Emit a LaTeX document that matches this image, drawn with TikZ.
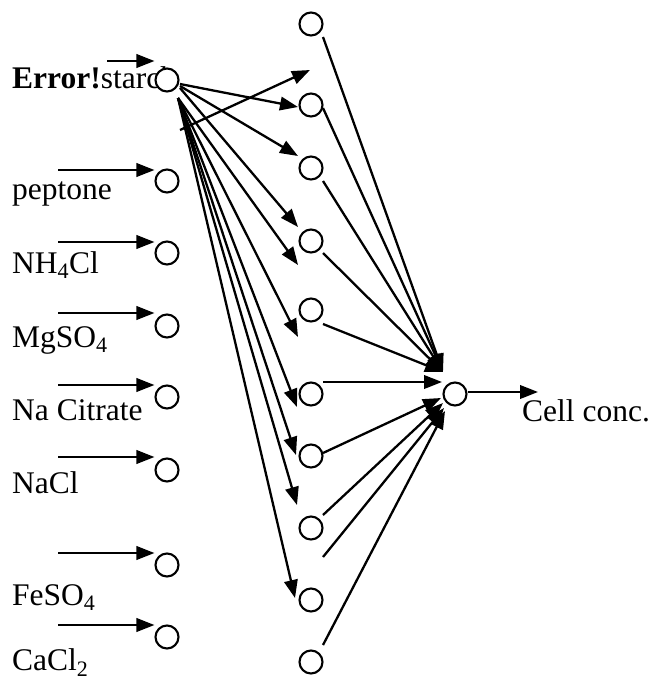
\documentclass[tikz,border=0pt]{standalone}
\usepackage{fontspec}
\setmainfont{Liberation Serif}
\usetikzlibrary{arrows.meta,calc}
\begin{document}
\begin{tikzpicture}[x=1pt,y=-1pt,
  unit/.style={circle,draw,fill=white,line width=2.1pt,minimum size=23pt,inner sep=0pt},
  link/.style={line width=2.3pt,-{Triangle[length=18pt,width=13.5pt]}},
  lbl/.style={anchor=base west,inner sep=0pt,font=\fontsize{31.5}{37}\selectfont}]
\useasboundingbox (0,0) rectangle (653,686);

% input labels
\node[lbl] (l1) at (12,88)  {\textbf{Error!}starch};
\node[lbl] (l2) at (12,199) {peptone};
\node[lbl] (l3) at (12,273) {NH\textsubscript{4}Cl};
\node[lbl] (l4) at (12,347) {MgSO\textsubscript{4}};
\node[lbl] (l5) at (12,420) {Na Citrate};
\node[lbl] (l6) at (12,493) {NaCl};
\node[lbl] (l7) at (12,605) {FeSO\textsubscript{4}};
\node[lbl] (l8) at (12,670) {CaCl\textsubscript{2}};

% input layer
\foreach \n/\y in {1/80,2/181,3/253,4/326,5/397,6/470,7/565,8/637}
  \node[unit] (in\n) at (167,\y) {};

% hidden layer
\foreach \n/\y in {1/24,2/105,3/168,4/241,5/310,6/394,7/456,8/528,9/600,10/662}
  \node[unit] (h\n) at (311,\y) {};

% output unit
\node[unit] (out) at (455,394) {};
\node[lbl] (cell) at (522,421) {Cell conc.};

% arrows feeding the inputs
\foreach \n/\sx/\dy in {1/107/-19,2/58/-11,3/58/-11,4/58/-13,5/58/-12,6/58/-13,7/58/-12,8/58/-12}{
  \coordinate (src\n) at ($(in\n.center)+(0,\dy)$);
  \coordinate (src\n) at (\sx,0 |- src\n);
  \draw[link] (src\n) -- (src\n -| in\n.west);
}

% fan-out from the first input
\coordinate (xs) at (180,130);
\coordinate (xt) at (310,70);
\draw[link] (xs) -- (xt);
\draw[link] ($(in1.center)+(13,4)$) -- ($(h2.center)+(-13,2)$);
\draw[link] ($(in1.center)+(13,6)$) -- ($(h3.center)+(-13,-12)$);
\draw[link] ($(in1.center)+(13,8)$) -- ($(h4.center)+(-13,-14)$);
\coordinate (fan) at ($(in1.center)+(11,18)$);
\coordinate (t5) at (298,265);
\coordinate (t6) at (298,337);
\coordinate (t7) at (297,407);
\coordinate (t8) at (296,455);
\coordinate (t9) at (297,505);
\coordinate (t10) at (295,598);
\foreach \t in {t5,t6,t7,t8,t9,t10}
  \draw[link] (fan) -- (\t);

% hidden to output
\coordinate (hubA) at ($(out.center)+(-12,-22)$);
\draw[link] ($(h1.center)+(12,13)$) -- (hubA);
\draw[link] ($(h2.center)+(12,3)$) -- (hubA);
\draw[link] ($(h3.center)+(12,13)$) -- (hubA);
\draw[link] ($(h4.center)+(12,12)$) -- (hubA);
\draw[link] ($(h5.center)+(12,14)$) -- (hubA);
\draw[link] ($(h6.center)+(12,-12)$) -- ($(out.center)+(-13,-12)$);
\draw[link] ($(h7.center)+(12,-3)$) -- ($(out.center)+(-14,4)$);
\draw[link] ($(h8.center)+(12,-13)$) -- ($(out.center)+(-12,9)$);
\coordinate (loose) at (323,557);
\draw[link] (loose) -- ($(out.center)+(-11,14)$);
\draw[link] ($(h10.center)+(12,-17)$) -- ($(out.center)+(-10,17)$);

% output arrow
\coordinate (res) at (538,392);
\draw[link] (out.east |- res) -- (res);
\end{tikzpicture}
\end{document}
